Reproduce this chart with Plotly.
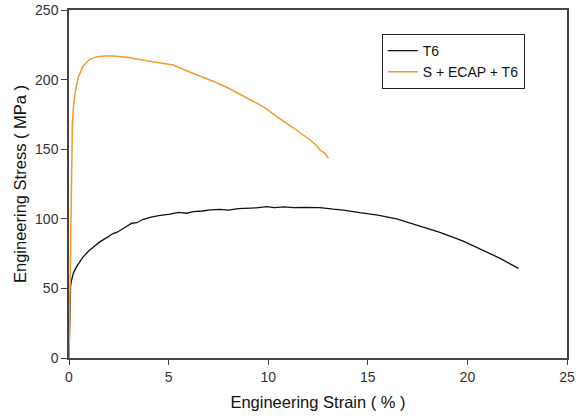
import plotly.graph_objects as go

# Engineering stress-strain data (strain in %, stress in MPa)
t6_strain = [0.0, 0.03, 0.05, 0.08, 0.13, 0.22, 0.38, 0.55, 0.72, 1.0, 1.3, 1.56, 1.9,
             2.23, 2.4, 2.7, 3.15, 3.4, 3.7, 4.07, 4.5, 5.07, 5.5, 5.9, 6.24, 6.7,
             7.1, 7.58, 8.0, 8.5, 8.92, 9.4, 9.92, 10.3, 10.8, 11.26, 11.8, 12.6,
             13.27, 13.77, 14.6, 15.5, 16.45, 17.45, 18.62, 19.79, 20.97, 21.64, 22.56]
t6_stress = [0.0, 25.0, 48.0, 52.0, 56.0, 61.0, 65.6, 69.5, 72.8, 77.0, 80.5, 83.6, 86.5,
             89.6, 90.2, 93.0, 96.8, 97.2, 99.5, 101.0, 102.3, 103.4, 104.6, 104.0, 105.1, 105.6,
             106.4, 106.8, 106.2, 107.3, 107.5, 107.9, 108.7, 108.0, 108.6, 108.0, 108.2, 108.0,
             106.9, 106.3, 104.4, 102.7, 99.9, 95.5, 90.3, 84.0, 76.4, 71.6, 64.4]

ecap_strain = [0.0, 0.04, 0.06, 0.08, 0.1, 0.13, 0.17, 0.22, 0.3, 0.47, 0.72, 1.05, 1.39, 1.8,
               2.23, 2.9, 3.4, 3.9, 4.6, 5.24, 5.9, 6.58, 7.2, 7.92, 8.5, 9.09, 9.59,
               10.0, 10.43, 11.26, 11.7, 12.1, 12.4, 12.6, 12.85, 13.02]
ecap_stress = [0.0, 40.0, 80.0, 105.0, 128.0, 150.0, 168.0, 180.0, 190.0, 202.0, 210.0, 214.6, 216.5, 217.0,
               217.0, 216.0, 215.0, 213.6, 212.0, 210.5, 206.4, 202.6, 199.0, 194.5, 190.0, 185.3, 181.8,
               178.0, 173.4, 165.4, 161.0, 156.6, 153.0, 149.4, 147.0, 143.5]

series_names = ["T6", "S + ECAP + T6"]

axis_color = "#444444"
font_family = "Liberation Sans, Arial, sans-serif"
tick_font = dict(family=font_family, size=14, color="#333333")
title_font = dict(family=font_family, size=16.5, color="#111111")

fig = go.Figure()
fig.add_trace(go.Scatter(x=t6_strain, y=t6_stress, mode="lines", name=series_names[0],
                         line=dict(color="#111111", width=1.3)))
fig.add_trace(go.Scatter(x=ecap_strain, y=ecap_stress, mode="lines", name=series_names[1],
                         line=dict(color="#f29b2c", width=1.5)))

fig.update_xaxes(range=[0, 25], tickvals=[0, 5, 10, 15, 20, 25], showgrid=False, zeroline=False,
                 showline=True, linecolor=axis_color, linewidth=1.5, mirror=True,
                 ticks="outside", ticklen=5, tickcolor=axis_color, tickfont=tick_font,
                 automargin=False,
                 title=dict(text="Engineering Strain ( % )", font=title_font, standoff=13))
fig.update_yaxes(range=[0, 250], tickvals=[0, 50, 100, 150, 200, 250], showgrid=False, zeroline=False,
                 showline=True, linecolor=axis_color, linewidth=1.5, mirror=True,
                 ticks="outside", ticklen=6, tickcolor=axis_color, tickfont=tick_font,
                 automargin=False,
                 title=dict(text="Engineering Stress ( MPa )", font=title_font, standoff=4))

fig.update_layout(
    width=579, height=416,
    margin=dict(l=69, r=12, t=10, b=58),
    plot_bgcolor="white", paper_bgcolor="white",
    showlegend=True,
    legend=dict(x=0.628, y=0.931, xanchor="left", yanchor="top",
                bordercolor="#222222", borderwidth=1, bgcolor="white",
                font=dict(family=font_family, size=14, color="#111111"),
                tracegroupgap=0, itemwidth=30),
)

fig.write_html("out.html")
